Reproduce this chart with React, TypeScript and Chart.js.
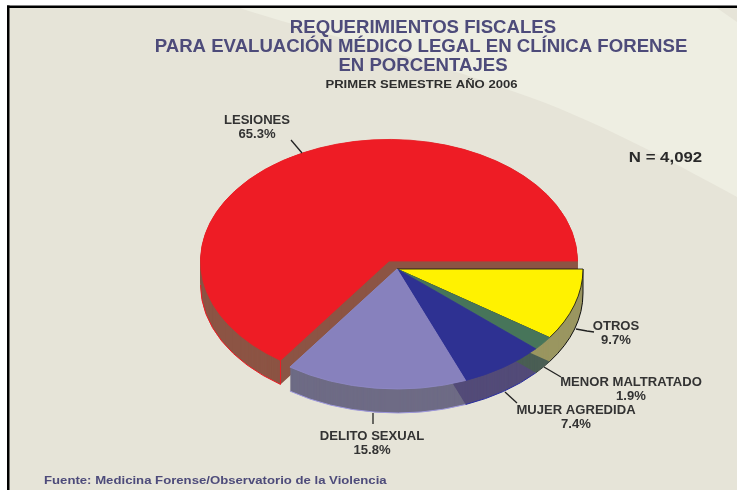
import React, { useEffect, useRef } from "react";
import { Chart, registerables } from "chart.js";

Chart.register(...registerables);

// ---- data (clockwise from 3 o'clock) ----
const categories = ["OTROS", "MENOR MALTRATADO", "MUJER AGREDIDA", "DELITO SEXUAL", "LESIONES"];
const percentages = [9.7, 1.9, 7.4, 15.8, 65.3];
const topColors = ["#fff200", "#47755a", "#2e3192", "#8781bd", "#ee1c25"];
const topBorders = ["#111111", "#47755a", "#2e3192", "#8f89c6", "#ee1c25"];
const wallColors = ["#9a9660", "#4a5e54", "#534b78", "#6e6b85", "#8c5444"];
const wallBorders = ["#111111", "#3a463f", "#2a2fa0", "#9d97dc", "#ee1c25"];
const titleLines = [
  "REQUERIMIENTOS FISCALES",
  "PARA EVALUACIÓN MÉDICO LEGAL EN CLÍNICA FORENSE",
  "EN PORCENTAJES",
];
const subtitle = "PRIMER SEMESTRE AÑO 2006";
const clippedHeading = "GRÁFICA 15";
const sampleSize = "N = 4,092";
const source = "Fuente: Medicina Forense/Observatorio de la Violencia";

// ---- layout ----
const W = 737;
const H = 490;
const CX = 397;
const CY = 269;
const RADIUS = 186;
const SQUASH = 0.645;
const DEPTH = 24;
const EXPLODE = { index: 4, dx: -8, dy: -8, radius: 188.5 };
const labelAnchors = [
  { x: 616, y: 327, line: [[576, 329], [587, 331], [594, 332]] },
  { x: 631, y: 383, line: [[544, 367], [561, 377]] },
  { x: 576, y: 411, line: [[505, 392], [517, 403]] },
  { x: 372, y: 437, line: [[373, 413], [373, 424]] },
  { x: 257, y: 121, line: [[291, 140], [302, 153]] },
];
const FONT = '"Liberation Sans", Arial, sans-serif';

function screenY(y: number) {
  return CY + (y - CY) * SQUASH;
}

function text(
  ctx: CanvasRenderingContext2D,
  s: string,
  x: number,
  y: number,
  size: number,
  color: string,
  stretch = 1,
  align: CanvasTextAlign = "center",
) {
  ctx.save();
  ctx.font = `bold ${size}px ${FONT}`;
  ctx.fillStyle = color;
  ctx.textAlign = align;
  ctx.textBaseline = "middle";
  ctx.translate(x, y);
  ctx.scale(stretch, 1);
  ctx.fillText(s, 0, 0);
  ctx.restore();
}

const pie3d = {
  id: "pie3d",
  afterDatasetsUpdate(chart: any) {
    const arc = chart.getDatasetMeta(0).data[EXPLODE.index];
    arc.x += EXPLODE.dx;
    arc.y += EXPLODE.dy / SQUASH;
    arc.outerRadius = EXPLODE.radius;
  },
  beforeDraw(chart: any) {
    const ctx: CanvasRenderingContext2D = chart.ctx;
    ctx.save();
    ctx.fillStyle = "#ffffff";
    ctx.fillRect(0, 0, W, H);
    ctx.fillStyle = "#e6e4d8";
    ctx.fillRect(8, 7, W, H);
    // lighter swoosh
    ctx.fillStyle = "#eeeee2";
    ctx.beginPath();
    ctx.moveTo(240, 8);
    ctx.bezierCurveTo(300, 28, 430, 60, 500, 87);
    ctx.bezierCurveTo(580, 112, 660, 155, 737, 197);
    ctx.lineTo(737, 22);
    ctx.lineTo(717, 8);
    ctx.closePath();
    ctx.fill();
    // frame
    ctx.fillStyle = "#000000";
    ctx.fillRect(7, 5.5, W, 2.5);
    ctx.fillRect(7, 5.5, 2.5, H);
    ctx.restore();
  },
  beforeDatasetDraw(chart: any) {
    const ctx: CanvasRenderingContext2D = chart.ctx;
    const arcs = chart.getDatasetMeta(0).data;
    const order = [4, 3, 2, 1, 0];
    order.forEach((i) => {
      const a = arcs[i];
      const rx = a.outerRadius;
      const ry = rx * SQUASH;
      const y0 = screenY(a.y);
      ctx.save();
      ctx.fillStyle = wallColors[i];
      for (let d = DEPTH; d >= 0; d -= 1) {
        ctx.beginPath();
        ctx.moveTo(a.x, y0 + d);
        ctx.ellipse(a.x, y0 + d, rx, ry, 0, a.startAngle, a.endAngle);
        ctx.closePath();
        ctx.fill();
      }
      // visible outline of the wall
      ctx.strokeStyle = wallBorders[i];
      ctx.lineWidth = 1;
      const from = a.startAngle;
      const to = Math.min(a.endAngle, Math.PI);
      if (from < Math.PI) {
        ctx.beginPath();
        const sx = a.x + rx * Math.cos(from);
        const sy = y0 + ry * Math.sin(from);
        ctx.moveTo(sx, sy);
        ctx.lineTo(sx, sy + DEPTH);
        ctx.ellipse(a.x, y0 + DEPTH, rx, ry, 0, from, to);
        ctx.stroke();
      }
      ctx.restore();
    });
    ctx.save();
    ctx.translate(0, CY);
    ctx.scale(1, SQUASH);
    ctx.translate(0, -CY);
  },
  afterDatasetDraw(chart: any) {
    chart.ctx.restore();
  },
  afterDatasetsDraw(chart: any) {
    const ctx: CanvasRenderingContext2D = chart.ctx;
    ctx.save();
    // clipped heading, only the foot of the letters shows under the frame
    ctx.save();
    ctx.beginPath();
    ctx.rect(0, 8, W, 4);
    ctx.clip();
    text(ctx, clippedHeading, 426, 4, 13, "#6d6c3c", 1.15);
    ctx.restore();

    const titleColor = "#4d4b7a";
    text(ctx, titleLines[0], 423, 28, 17.5, titleColor, 1.063);
    text(ctx, titleLines[1], 421, 47, 17.5, titleColor, 1.063);
    text(ctx, titleLines[2], 423, 66, 17.5, titleColor, 1.063);
    text(ctx, subtitle, 421.5, 84.5, 11.6, "#2e2e2e", 1.13);
    text(ctx, sampleSize, 665.5, 158, 15, "#2a2a2a", 1.12);
    text(ctx, source, 44, 481, 11.5, titleColor, 1.144, "left");

    categories.forEach((c, i) => {
      const p = labelAnchors[i];
      text(ctx, c, p.x, p.y, 12, "#333333", 1.09);
      text(ctx, `${percentages[i].toFixed(1)}%`, p.x, p.y + 14, 12, "#333333", 1.09);
      ctx.strokeStyle = "#222222";
      ctx.lineWidth = 1.3;
      ctx.beginPath();
      p.line.forEach(([x, y], k) => (k ? ctx.lineTo(x, y) : ctx.moveTo(x, y)));
      ctx.stroke();
    });
    ctx.restore();
  },
};

export default function App() {
  const ref = useRef<HTMLCanvasElement>(null);
  useEffect(() => {
    const chart = new Chart(ref.current as HTMLCanvasElement, {
      type: "pie",
      data: {
        labels: categories,
        datasets: [
          {
            data: percentages,
            backgroundColor: topColors,
            borderColor: topBorders,
            borderWidth: 1,
            clip: false,
          } as any,
        ],
      },
      options: {
        responsive: false,
        animation: false,
        rotation: 90,
        radius: RADIUS,
        layout: { padding: { left: 2 * CX - W, top: 2 * CY - H } },
        plugins: { legend: { display: false }, tooltip: { enabled: false }, title: { display: false } },
      } as any,
      plugins: [pie3d],
    });
    return () => chart.destroy();
  }, []);
  return (
    <div style={{ position: "fixed", left: 0, top: 0, width: W, height: H }}>
      <canvas ref={ref} width={W} height={H} style={{ display: "block", filter: "blur(0.45px)" }} />
    </div>
  );
}
